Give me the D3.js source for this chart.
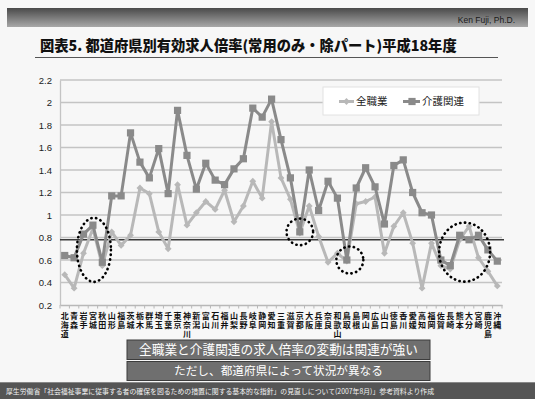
<!DOCTYPE html>
<html>
<head>
<meta charset="utf-8">
<script src="https://cdn.jsdelivr.net/npm/d3@7"></script>
<style>
  html, body { margin: 0; padding: 0; background: #f7f7f7; }
  svg { display: block; }
</style>
</head>
<body>
<svg id="chart" width="535" height="399"></svg>
<script>
// 都道府県別 有効求人倍率（常用のみ・除パート）平成18年度
const prefectures = ["北海道","青森","岩手","宮城","秋田","山形","福島","茨城","栃木","群馬","埼玉","千葉","東京","神奈川","新潟","富山","石川","福井","山梨","長野","岐阜","静岡","愛知","三重","滋賀","京都","大阪","兵庫","奈良","和歌山","鳥取","島根","岡山","広島","山口","徳島","香川","愛媛","高知","福岡","佐賀","長崎","熊本","大分","宮崎","鹿児島","沖縄"];
const allJobs = [0.47,0.35,0.66,0.88,0.55,0.85,0.73,0.82,1.24,1.19,0.85,0.70,1.27,0.91,1.02,1.12,1.05,1.22,0.94,1.08,1.30,1.15,1.83,1.33,1.14,0.84,1.08,0.81,0.58,0.66,0.59,1.10,1.12,1.16,0.66,0.90,1.02,0.75,0.35,0.75,0.55,0.52,0.78,0.90,0.62,0.50,0.37];
const careJobs = [0.64,0.62,0.83,0.91,0.58,1.17,1.17,1.73,1.47,1.33,1.59,1.19,1.93,1.53,1.23,1.46,1.31,1.27,1.41,1.50,1.95,1.87,2.03,1.67,1.33,0.85,1.40,1.04,1.30,1.15,0.60,1.24,1.42,1.25,0.92,1.44,1.49,1.20,1.02,1.00,0.60,0.55,0.82,0.78,0.82,0.69,0.59];
const seriesNames = ["全職業", "介護関連"];
const yTicks = [0.2,0.4,0.6,0.8,1.0,1.2,1.4,1.6,1.8,2.0,2.2];
const yTickLabels = ["0.2","0.4","0.6","0.8","1","1.2","1.4","1.6","1.8","2","2.2"];
const referenceLevel = 0.78;

const titleText = "図表5. 都道府県別有効求人倍率(常用のみ・除パート)平成18年度";
const noteLines = ["全職業と介護関連の求人倍率の変動は関連が強い", "ただし、都道府県によって状況が異なる"];
const sourceText = "厚生労働省「社会福祉事業に従事する者の確保を図るための措置に関する基本的な指針」の見直しについて(2007年8月)」参考資料より作成";
const authorText = "Ken Fuji, Ph.D.";

const JP = "'Noto Sans CJK JP', 'Noto Sans', sans-serif";
const LAT = "'Liberation Sans', Arial, sans-serif";

const svg = d3.select("#chart");

// shrink/grow a text element's font so it spans a given width
function fitWidth(sel, w) {
  const len = sel.node().getComputedTextLength();
  const fs = parseFloat(sel.attr("font-size"));
  sel.attr("font-size", (fs * w / len).toFixed(2));
}

// ---- header bar ----
const defs = svg.append("defs");
const grad = defs.append("linearGradient").attr("id", "hdr").attr("x1", 0).attr("y1", 0).attr("x2", 0).attr("y2", 1);
grad.append("stop").attr("offset", "0%").attr("stop-color", "#4a4a4a");
grad.append("stop").attr("offset", "100%").attr("stop-color", "#a8a8a8");
svg.append("rect").attr("x", 7).attr("y", 8).attr("width", 521).attr("height", 19).attr("fill", "url(#hdr)");
svg.append("text").attr("x", 515).attr("y", 22.5).attr("text-anchor", "end")
  .attr("font-family", LAT).attr("font-size", 8.5).attr("fill", "#1a1a1a").text(authorText);

// ---- title ----
const title = svg.append("text").attr("x", 40).attr("y", 50.5)
  .attr("font-family", JP).attr("font-weight", 900).attr("font-size", 14).attr("fill", "#111").text(titleText);
fitWidth(title, 417);
svg.append("line").attr("x1", 35).attr("x2", 498).attr("y1", 57.5).attr("y2", 57.5)
  .attr("stroke", "#555").attr("stroke-width", 1);

// ---- scales ----
const x = d3.scaleBand().domain(prefectures).range([60, 502]);
const y = d3.scaleLinear().domain([0.2, 2.2]).range([305, 80]);
const cx = p => x(p) + x.bandwidth() / 2;

const plot = svg.append("g");

// gridlines
plot.append("g").selectAll("line").data(yTicks.slice(1)).join("line")
  .attr("x1", 60).attr("x2", 502).attr("y1", d => y(d)).attr("y2", d => y(d))
  .attr("stroke", "#c4c4c4").attr("stroke-width", 1.3);

// y axis with labels
const yAxis = plot.append("g").attr("transform", "translate(60,0)")
  .call(d3.axisLeft(y).tickValues(yTicks).tickFormat((d, i) => yTickLabels[i]).tickSize(0).tickPadding(8));
yAxis.select(".domain").attr("stroke", "#c4c4c4").attr("stroke-width", 1.3);
yAxis.selectAll("text").attr("font-family", LAT).attr("font-size", 9.5).attr("fill", "#222");

// x axis with stacked vertical labels, one character per row
const xAxis = plot.append("g").attr("transform", "translate(0,305)")
  .call(d3.axisBottom(x).tickSize(0).tickSizeOuter(0).tickFormat(""));
xAxis.select(".domain").attr("stroke", "#b8b8b8").attr("stroke-width", 1.3);
xAxis.selectAll(".tick").each(function (p) {
  const t = d3.select(this).append("text")
    .attr("font-family", JP).attr("font-weight", 700).attr("font-size", 8)
    .attr("fill", "#111").attr("text-anchor", "middle");
  Array.from(p).forEach((ch, j) => {
    t.append("tspan").attr("x", 0).attr("y", 14 + j * 8.9).text(ch);
  });
});
// small boundary ticks between categories
plot.append("g").selectAll("line").data(d3.range(prefectures.length + 1)).join("line")
  .attr("x1", i => 60 + i * x.step()).attr("x2", i => 60 + i * x.step())
  .attr("y1", 305).attr("y2", 308.5).attr("stroke", "#b8b8b8").attr("stroke-width", 1);

// reference level line
plot.append("line").attr("x1", 60).attr("x2", 504)
  .attr("y1", y(referenceLevel)).attr("y2", y(referenceLevel))
  .attr("stroke", "#3a3a3a").attr("stroke-width", 1.3);

// ---- series ----
const lightCol = "#b8b8b8", darkCol = "#8a8a8a";
const line = d3.line().x(d => cx(d.p)).y(d => y(d.v));
const allData = prefectures.map((p, i) => ({ p, v: allJobs[i] }));
const careData = prefectures.map((p, i) => ({ p, v: careJobs[i] }));

plot.append("path").datum(allData).attr("d", line)
  .attr("fill", "none").attr("stroke", lightCol).attr("stroke-width", 3).attr("stroke-linejoin", "round");
plot.append("g").selectAll("path").data(allData).join("path")
  .attr("d", d => { const X = cx(d.p), Y = y(d.v), r = 3.4; return `M${X},${Y - r}L${X + r},${Y}L${X},${Y + r}L${X - r},${Y}Z`; })
  .attr("fill", lightCol);

plot.append("path").datum(careData).attr("d", line)
  .attr("fill", "none").attr("stroke", darkCol).attr("stroke-width", 3).attr("stroke-linejoin", "round");
plot.append("g").selectAll("rect").data(careData).join("rect")
  .attr("x", d => cx(d.p) - 3.6).attr("y", d => y(d.v) - 3.6).attr("width", 7.2).attr("height", 7.2)
  .attr("fill", darkCol);

// ---- dotted highlight rings ----
const rings = [
  { p: "宮城", v: 0.69, dx: 1, rx: 17, ry: 32 },
  { p: "京都", v: 0.85, dx: 0, rx: 13.3, ry: 13.3 },
  { p: "鳥取", v: 0.60, dx: 3, rx: 13.5, ry: 13.5 },
  { p: "大分", v: 0.67, dx: -4.5, rx: 25.5, ry: 29.5 }
];
plot.append("g").selectAll("ellipse").data(rings).join("ellipse")
  .attr("cx", d => cx(d.p) + d.dx).attr("cy", d => y(d.v))
  .attr("rx", d => d.rx).attr("ry", d => d.ry)
  .attr("fill", "none").attr("stroke", "#000").attr("stroke-width", 2.6)
  .attr("stroke-linecap", "round").attr("stroke-dasharray", "0.3 4.5");

// ---- legend ----
const lg = svg.append("g");
lg.append("rect").attr("x", 323).attr("y", 87).attr("width", 156).attr("height", 28)
  .attr("fill", "#fff").attr("stroke", "#e2e2e2").attr("stroke-width", 1);
const lgY = 101.5;
lg.append("line").attr("x1", 339).attr("x2", 354).attr("y1", lgY).attr("y2", lgY).attr("stroke", lightCol).attr("stroke-width", 3);
lg.append("path").attr("d", `M346.5,${lgY - 3.4}L349.9,${lgY}L346.5,${lgY + 3.4}L343.1,${lgY}Z`).attr("fill", lightCol);
lg.append("text").attr("x", 356).attr("y", lgY).attr("dy", "0.36em")
  .attr("font-family", JP).attr("font-size", 10.5).attr("fill", "#222").text(seriesNames[0]);
lg.append("line").attr("x1", 403).attr("x2", 420).attr("y1", lgY).attr("y2", lgY).attr("stroke", darkCol).attr("stroke-width", 3);
lg.append("rect").attr("x", 408.4).attr("y", lgY - 3.6).attr("width", 7.2).attr("height", 7.2).attr("fill", darkCol);
lg.append("text").attr("x", 422).attr("y", lgY).attr("dy", "0.36em")
  .attr("font-family", JP).attr("font-size", 10.5).attr("fill", "#222").text(seriesNames[1]);

// ---- note boxes ----
const boxes = [{ y: 340, h: 19.5, w: 279 }, { y: 361.5, h: 19, w: 209 }];
boxes.forEach((b, i) => {
  svg.append("rect").attr("x", 127).attr("y", b.y).attr("width", 303).attr("height", b.h)
    .attr("fill", "#6f6f6f").attr("stroke", "#3c3c3c").attr("stroke-width", 1);
  const t = svg.append("text").attr("x", 278.5).attr("y", b.y + b.h / 2).attr("dy", "0.36em")
    .attr("text-anchor", "middle").attr("font-family", JP).attr("font-size", 12.5)
    .attr("fill", "#fff").text(noteLines[i]);
  fitWidth(t, b.w);
});

// ---- source footer ----
svg.append("rect").attr("x", 0).attr("y", 382).attr("width", 535).attr("height", 17).attr("fill", "#555");
svg.append("line").attr("x1", 0).attr("x2", 535).attr("y1", 382.5).attr("y2", 382.5).attr("stroke", "#888");
const src = svg.append("text").attr("x", 6).attr("y", 391.5).attr("dy", "0.36em")
  .attr("font-family", JP).attr("font-size", 7).attr("fill", "#f2f2f2").text(sourceText);
fitWidth(src, 429);
</script>
</body>
</html>
